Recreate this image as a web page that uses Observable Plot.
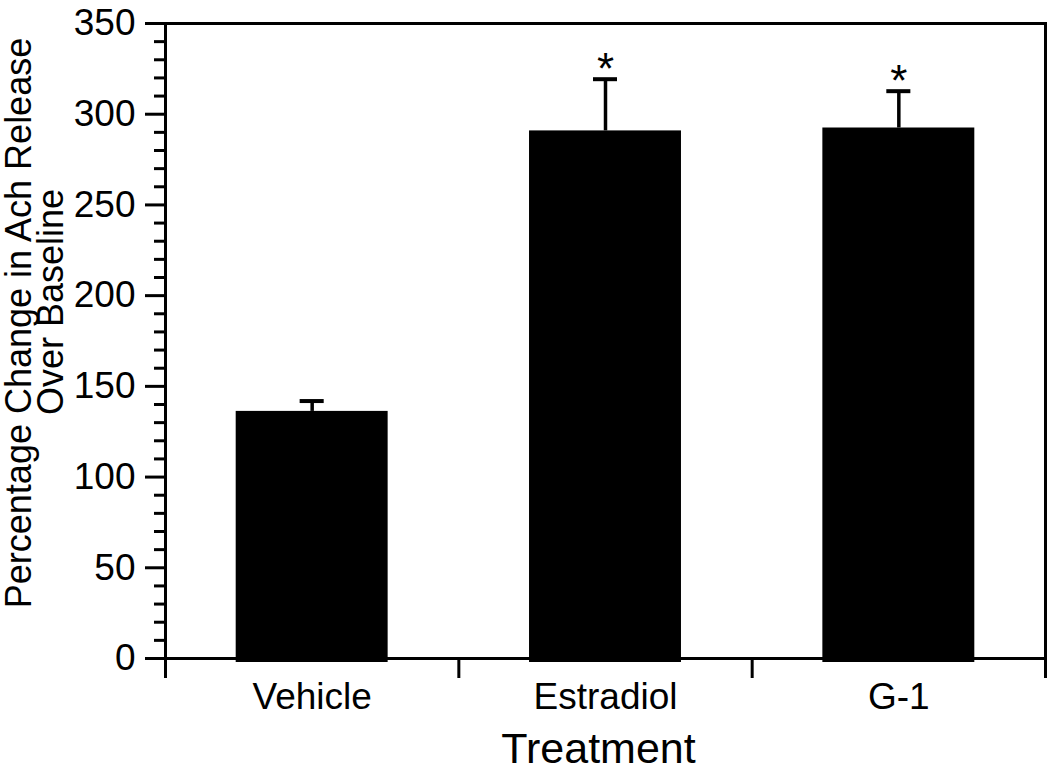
<!DOCTYPE html>
<html>
<head>
<meta charset="utf-8">
<script src="https://cdn.jsdelivr.net/npm/d3@7"></script>
<script src="https://cdn.jsdelivr.net/npm/@observablehq/plot@0.6"></script>
<style>
  html, body { margin: 0; padding: 0; background: #fff; }
  #chart svg { display: block; }
</style>
</head>
<body>
<div id="chart"></div>
<script>
const categories = ["Vehicle", "Estradiol", "G-1"];
const means = [136.2, 290.8, 292.4];
const errors = [5.7, 28.5, 20.3];
const significant = [false, true, true];
const yTicks = [0, 50, 100, 150, 200, 250, 300, 350];
const yLabelLines = ["Percentage Change in Ach Release", "Over Baseline"];
const xLabel = "Treatment";

const data = categories.map((c, i) => ({
  cat: c, i, mean: means[i], top: means[i] + errors[i], sig: significant[i]
}));
const minorTicks = d3.range(0, 351, 10).filter(v => v % 50 !== 0);
const boundaries = d3.range(0, categories.length + 1);
const centers = categories.map((c, i) => i + 0.5);
const halfBar = 0.259;
const halfCap = 0.041;
const font = "Liberation Sans, Arial, Helvetica, sans-serif";

const chart = Plot.plot({
  width: 1050,
  height: 773,
  marginLeft: 165,
  marginRight: 5,
  marginTop: 23,
  marginBottom: 115,
  style: { fontFamily: font, color: "#000", background: "#fff" },
  x: { domain: [0, categories.length], axis: null },
  y: { domain: [0, 350], axis: null },
  marks: [
    Plot.rectY(data, {
      x1: d => d.i + 0.5 - halfBar, x2: d => d.i + 0.5 + halfBar,
      y1: 0, y2: "mean", fill: "#000", insetBottom: -4
    }),
    Plot.ruleX(data, { x: d => d.i + 0.5, y1: "mean", y2: "top", stroke: "#000", strokeWidth: 3.5 }),
    Plot.ruleY(data, {
      y: "top", x1: d => d.i + 0.5 - halfCap, x2: d => d.i + 0.5 + halfCap,
      stroke: "#000", strokeWidth: 4
    }),
    Plot.text(data.filter(d => d.sig), {
      x: d => d.i + 0.5, y: "top", text: () => "*",
      fontSize: 44, lineAnchor: "middle", dy: -9, fill: "#000"
    }),
    Plot.frame({ stroke: "#000", strokeWidth: 3 }),
    Plot.axisY({
      ticks: yTicks, tickSize: 20, tickPadding: 10, strokeWidth: 3,
      fontSize: 37, label: null, anchor: "left"
    }),
    Plot.axisY({
      ticks: minorTicks, tickSize: 11, tickFormat: () => "", strokeWidth: 3,
      label: null, anchor: "left"
    }),
    Plot.axisX({
      ticks: boundaries, tickSize: 20, tickFormat: () => "", strokeWidth: 3,
      label: null, anchor: "bottom"
    }),
    Plot.axisX({
      ticks: centers, tickSize: 0, tickPadding: 24,
      tickFormat: v => categories[Math.floor(v)],
      fontSize: 37, label: null, anchor: "bottom"
    }),
    Plot.text([xLabel], {
      frameAnchor: "bottom", text: d => d, fontSize: 43,
      textAnchor: "middle", lineAnchor: "middle", dy: 91, dx: -7, fill: "#000"
    }),
    Plot.text([yLabelLines[0]], {
      frameAnchor: "left", text: d => d, fontSize: 36, rotate: -90,
      textAnchor: "middle", lineAnchor: "middle", dx: -146, dy: -18, fill: "#000"
    }),
    Plot.text([yLabelLines[1]], {
      frameAnchor: "left", text: d => d, fontSize: 36, rotate: -90,
      textAnchor: "middle", lineAnchor: "middle", dx: -114, dy: -39, fill: "#000"
    })
  ]
});
document.getElementById("chart").appendChild(chart);
</script>
</body>
</html>
